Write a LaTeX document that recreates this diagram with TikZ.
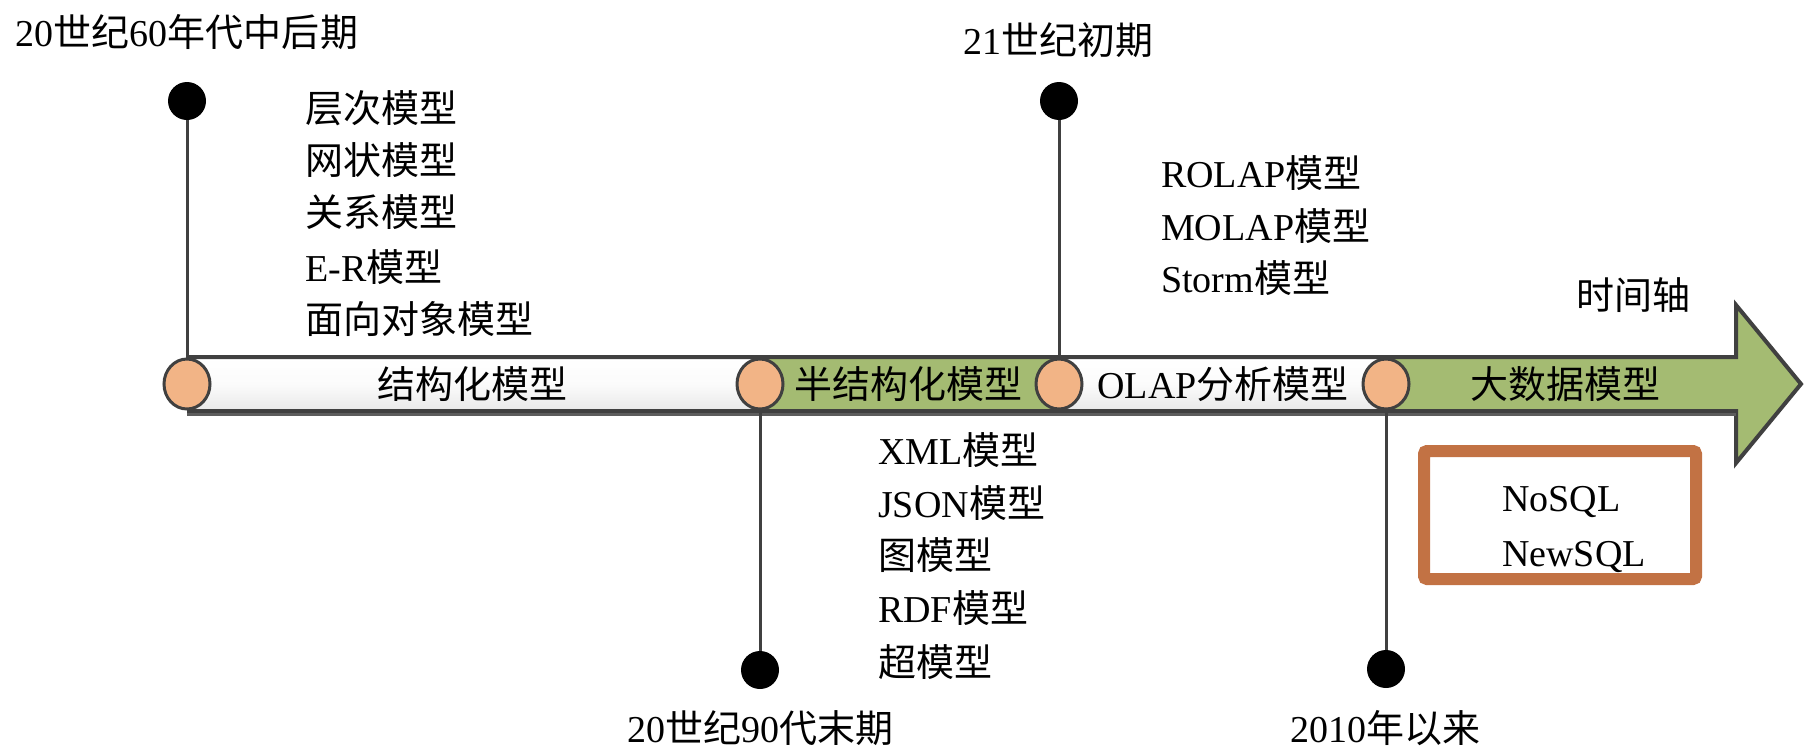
\documentclass[tikz,border=0pt]{standalone}
\usepackage{fontspec}
\setmainfont{Liberation Serif}
\newfontfamily\cjk{Noto Sans CJK SC}
\newcommand\zh[1]{{\cjk #1}}
\usetikzlibrary{shapes.geometric}
\definecolor{barline}{HTML}{404040}
\definecolor{bargreen}{HTML}{A4BB72}
\definecolor{jointfill}{HTML}{F2B486}
\definecolor{boxorange}{HTML}{C27244}
\begin{document}
\begin{tikzpicture}[x=1pt,y=-1pt,
  txt/.style={font=\fontsize{38}{44}\selectfont, inner sep=0pt, text=black},
  item/.style={txt, anchor=west},
  dot/.style={circle, fill=black, minimum size=38pt, inner sep=0pt},
  joint/.style={ellipse, draw=barline, line width=3pt, fill=jointfill, minimum width=46pt, minimum height=50pt, inner sep=0pt},
  stem/.style={draw=barline, line width=3pt},
  whiteseg/.style={top color=white, bottom color=gray!18, middle color=white!97!gray},
]
\useasboundingbox (0,0) rectangle (1806,747);
% bar body
\shade[whiteseg] (187,357) rectangle (760,411);
\fill[bargreen] (760,357) rectangle (1059,411);
\shade[whiteseg] (1059,357) rectangle (1386,411);
\fill[bargreen] (1386,357) -- (1736,357) -- (1736,305) -- (1801,384) -- (1736,463) -- (1736,411) -- (1386,411) -- cycle;
\draw[barline, line width=4pt, line join=miter] (187,357) -- (1736,357) -- (1736,305) -- (1801,384) -- (1736,463) -- (1736,411) -- (187,411);
\draw[barline!85, line width=3pt] (187,414) -- (1736,414);
% joints
\node[joint] (j1) at (187,384) {};
\node[joint] (j2) at (760,384) {};
\node[joint] (j3) at (1059,384) {};
\node[joint] (j4) at (1386,384) {};
% bar labels
\node[txt] (s1) at (472,384) {\zh{结构化模型}};
\node[txt] (s2) at (908,384) {\zh{半结构化模型}};
\node[txt] (s3) at (1223,384) {OLAP\zh{分析模型}};
\node[txt] (s4) at (1565,384) {\zh{大数据模型}};
% dots
\node[dot] (d1) at (187,101) {};
\node[dot] (d2) at (1059,101) {};
\node[dot] (d3) at (760,670) {};
\node[dot] (d4) at (1386,669) {};
\draw[stem] (d1) -- (j1);
\draw[stem] (d2) -- (j3);
\draw[stem] (j2) -- (d3);
\draw[stem] (j4) -- (d4);
% period labels
\node[txt] (p1) at (187,32) {20\zh{世纪}60\zh{年代中后期}};
\node[txt] (p2) at (1058,40) {21\zh{世纪初期}};
\node[txt] (p3) at (760,728) {20\zh{世纪}90\zh{代末期}};
\node[txt] (p4) at (1385,728) {2010\zh{年以来}};
\node[txt] (axis) at (1633,295) {\zh{时间轴}};
% lists
\node[item] (a1) at (305,108) {\zh{层次模型}};
\node[item] (a2) at (305,160) {\zh{网状模型}};
\node[item] (a3) at (305,212) {\zh{关系模型}};
\node[item] (a4) at (305,267) {E-R\zh{模型}};
\node[item] (a5) at (305,319) {\zh{面向对象模型}};
\node[item] (b1) at (1161,173) {ROLAP\zh{模型}};
\node[item] (b2) at (1161,226) {MOLAP\zh{模型}};
\node[item] (b3) at (1161,278) {Storm\zh{模型}};
\node[item] (c1) at (878,450) {XML\zh{模型}};
\node[item] (c2) at (878,503) {JSON\zh{模型}};
\node[item] (c3) at (878,555) {\zh{图模型}};
\node[item] (c4) at (878,608) {RDF\zh{模型}};
\node[item] (c5) at (878,662) {\zh{超模型}};
% box
\draw[boxorange, line width=12pt, rounded corners=3pt] (1424,451) rectangle (1696,579);
\node[item] (n1) at (1502,502) {NoSQL};
\node[item] (n2) at (1502,557) {NewSQL};
\end{tikzpicture}
\end{document}
